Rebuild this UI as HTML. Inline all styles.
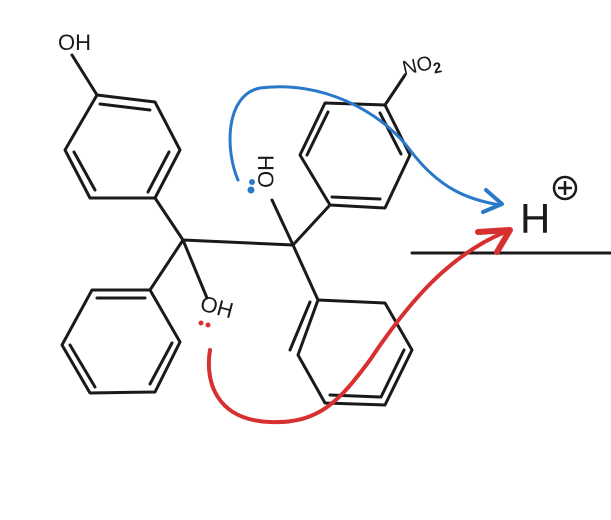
<!DOCTYPE html>
<html><head><style>html,body{margin:0;padding:0;background:#fff;}svg{display:block}</style></head>
<body>
<svg width="611" height="520" viewBox="0 0 611 520" xmlns="http://www.w3.org/2000/svg">
<g stroke="#1a1a1a" stroke-width="3" fill="none" stroke-linecap="round" stroke-linejoin="round">
<path d="M97,95 L155,102 L180,150 L155,198 L90,198 L65,150 Z"/>
<path d="M100,104 L150,110 M169,152 L148,192 M74,152 L95,190"/>
<path d="M72,55 L97,95"/>
<path d="M183,240 L293,245 M183,240 L155,198 M183,240 L150,290 M183,240 L207,298 M293,245 L272,200 M293,245 L330,205 M293,245 L318,300"/>
<path d="M150,290 L180,342 L155,392 L90,393 L62,345 L92,290 Z"/>
<path d="M97,298 L145,298 M172,343 L150,384 M70,345 L95,387"/>
<path d="M330,205 L385,208 L410,155 L385,105 L325,103 L300,155 Z"/>
<path d="M332,197 L380,199 M401,154 L380,113 M307,155 L328,112"/>
<path d="M385,105 L405,75"/>
<path d="M318,300 L385,303 L412,350 L385,405 L325,403 L298,355 Z"/>
<path d="M310,302 L290,350 M404,350 L381,397 M330,395 L380,397"/>
<path d="M412,253 L611,253"/>
</g>
<g font-family="Liberation Sans, sans-serif" fill="#1a1a1a">
<text x="58" y="50" font-size="22">OH</text>
<text x="404" y="75" font-size="20" transform="rotate(-12 404 75)">NO<tspan font-size="15" font-weight="bold" dy="5">2</tspan></text>
<text x="0" y="0" font-size="22" transform="translate(199,310) rotate(15)">OH</text>
<text x="0" y="0" font-size="22" transform="translate(258,155) rotate(90)">HO</text>
<text x="520" y="233" font-size="42">H</text>
</g>
<circle cx="565" cy="188" r="11" stroke="#1a1a1a" stroke-width="2.5" fill="none"/>
<path d="M558,188 L572,188 M565,181 L565,195" stroke="#1a1a1a" stroke-width="2.5"/>
<path d="M238,180 C225,150 225,95 260,88 C320,80 380,110 410,150 C440,190 470,200 500,205" stroke="#2a78c8" stroke-width="3" fill="none" stroke-linecap="round"/>
<path d="M486,190 L502,204 L483,212" stroke="#2a78c8" stroke-width="4" fill="none" stroke-linecap="round" stroke-linejoin="round"/>
<circle cx="252" cy="182" r="3" fill="#2a78c8"/><circle cx="251" cy="190" r="3.5" fill="#2a78c8"/>
<path d="M210,350 C205,380 215,420 270,422 C320,424 340,400 370,360 C410,300 450,255 505,232" stroke="#d63030" stroke-width="4" fill="none" stroke-linecap="round"/>
<path d="M478,232 L510,230 L497,252" stroke="#d63030" stroke-width="6" fill="none" stroke-linecap="round" stroke-linejoin="round"/>
<circle cx="201" cy="323" r="2.5" fill="#d63030"/><circle cx="208" cy="325" r="2.5" fill="#d63030"/>
</svg>
</body></html>
